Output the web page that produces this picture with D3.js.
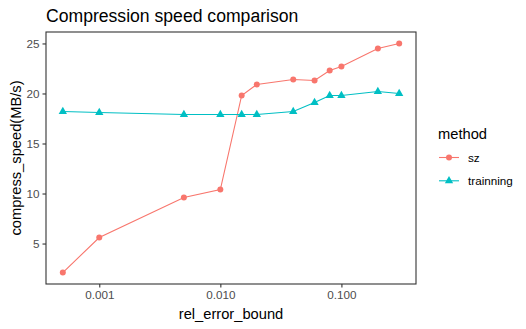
<!DOCTYPE html>
<html>
<head>
<meta charset="utf-8">
<script src="https://cdn.jsdelivr.net/npm/d3@7"></script>
<style>
  body { margin: 0; background: #fff; }
  svg { display: block; font-family: "Liberation Sans", Arial, sans-serif; }
</style>
</head>
<body>
<div id="chart"></div>
<script>
const errorBounds = [0.0005, 0.001, 0.005, 0.01, 0.015, 0.02, 0.04, 0.06, 0.08, 0.1, 0.2, 0.3]
const szSpeed = [2.1, 5.6, 9.6, 10.4, 19.8, 20.9, 21.4, 21.3, 22.3, 22.7, 24.5, 25.0]
const trainSpeed = [18.2, 18.1, 17.9, 17.9, 17.9, 17.9, 18.2, 19.1, 19.8, 19.8, 20.2, 20.0]
const xTicks = [0.001, 0.01, 0.1]
const yTicks = [5, 10, 15, 20, 25]
const methods = ["sz", "trainning"]
const colors = ["#F8766D", "#00BFC4"]

const width = 526, height = 329
const panel = { left: 46, right: 416, top: 32, bottom: 284 }

const svg = d3.select("#chart").append("svg")
    .attr("width", width).attr("height", height)

svg.append("rect").attr("width", width).attr("height", height).attr("fill", "#fff")

// ggplot-style 5% expansion on both axes
const lx = d3.extent(errorBounds, d => Math.log10(d))
const xPad = (lx[1] - lx[0]) * 0.05
const x = d3.scaleLog()
    .domain([Math.pow(10, lx[0] - xPad), Math.pow(10, lx[1] + xPad)])
    .range([panel.left, panel.right])

const allY = szSpeed.concat(trainSpeed)
const ly = d3.extent(allY)
const yPad = (ly[1] - ly[0]) * 0.05
const y = d3.scaleLinear()
    .domain([ly[0] - yPad, ly[1] + yPad])
    .range([panel.bottom, panel.top])

const series = [szSpeed, trainSpeed].map((vals, i) => ({
    name: methods[i],
    color: colors[i],
    values: vals.map((v, j) => ({ x: errorBounds[j], y: v }))
}))

const line = d3.line().x(d => x(d.x)).y(d => y(d.y))
const triangle = d3.symbol().type(d3.symbolTriangle).size(30)

const g = svg.append("g")
series.forEach((s, i) => {
    g.append("path").attr("d", line(s.values))
        .attr("fill", "none").attr("stroke", s.color).attr("stroke-width", 1.1)
    const pts = g.selectAll(null).data(s.values)
    if (i === 0) {
        pts.enter().append("circle")
            .attr("cx", d => x(d.x)).attr("cy", d => y(d.y)).attr("r", 3)
            .attr("fill", s.color)
    } else {
        pts.enter().append("path")
            .attr("d", triangle)
            .attr("transform", d => `translate(${x(d.x)},${y(d.y)})`)
            .attr("fill", s.color)
    }
})

// panel border
svg.append("rect")
    .attr("x", panel.left).attr("y", panel.top)
    .attr("width", panel.right - panel.left).attr("height", panel.bottom - panel.top)
    .attr("fill", "none").attr("stroke", "#333333").attr("stroke-width", 1.1)

// axes
const xAxis = svg.append("g").attr("transform", `translate(0,${panel.bottom})`)
    .call(d3.axisBottom(x).tickValues(xTicks).tickFormat(d3.format(".3f")).tickSize(3.5).tickPadding(3))
const yAxis = svg.append("g").attr("transform", `translate(${panel.left},0)`)
    .call(d3.axisLeft(y).tickValues(yTicks).tickSize(3.5).tickPadding(3))
;[xAxis, yAxis].forEach(a => {
    a.select(".domain").remove()
    a.selectAll(".tick line").attr("stroke", "#333333").attr("stroke-width", 1.1)
    a.selectAll(".tick text").attr("fill", "#4D4D4D").style("font-size", "11.7px")
        .style("font-family", "'Liberation Sans', Arial, sans-serif")
})

// titles
svg.append("text").attr("x", panel.left).attr("y", 22)
    .style("font-size", "17.6px").attr("fill", "#000").text("Compression speed comparison")
svg.append("text").attr("x", (panel.left + panel.right) / 2).attr("y", 319)
    .attr("text-anchor", "middle").style("font-size", "14.7px").text("rel_error_bound")
svg.append("text")
    .attr("transform", `translate(21,${(panel.top + panel.bottom) / 2}) rotate(-90)`)
    .attr("text-anchor", "middle").style("font-size", "14.7px").text("compress_speed(MB/s)")

// legend
const legend = svg.append("g").attr("transform", "translate(438,0)")
legend.append("text").attr("x", 0).attr("y", 139).style("font-size", "14.7px").text("method")
series.forEach((s, i) => {
    const ky = 157.5 + i * 23.3
    const k = legend.append("g").attr("transform", `translate(0,${ky})`)
    k.append("line").attr("x1", 1).attr("x2", 21).attr("stroke", s.color).attr("stroke-width", 1.1)
    if (i === 0) k.append("circle").attr("cx", 11).attr("r", 3).attr("fill", s.color)
    else k.append("path").attr("d", triangle).attr("transform", "translate(11,0)").attr("fill", s.color)
    k.append("text").attr("x", 30).attr("y", 4.2).style("font-size", "11.7px").attr("fill", "#000").text(s.name)
})
</script>
</body>
</html>
